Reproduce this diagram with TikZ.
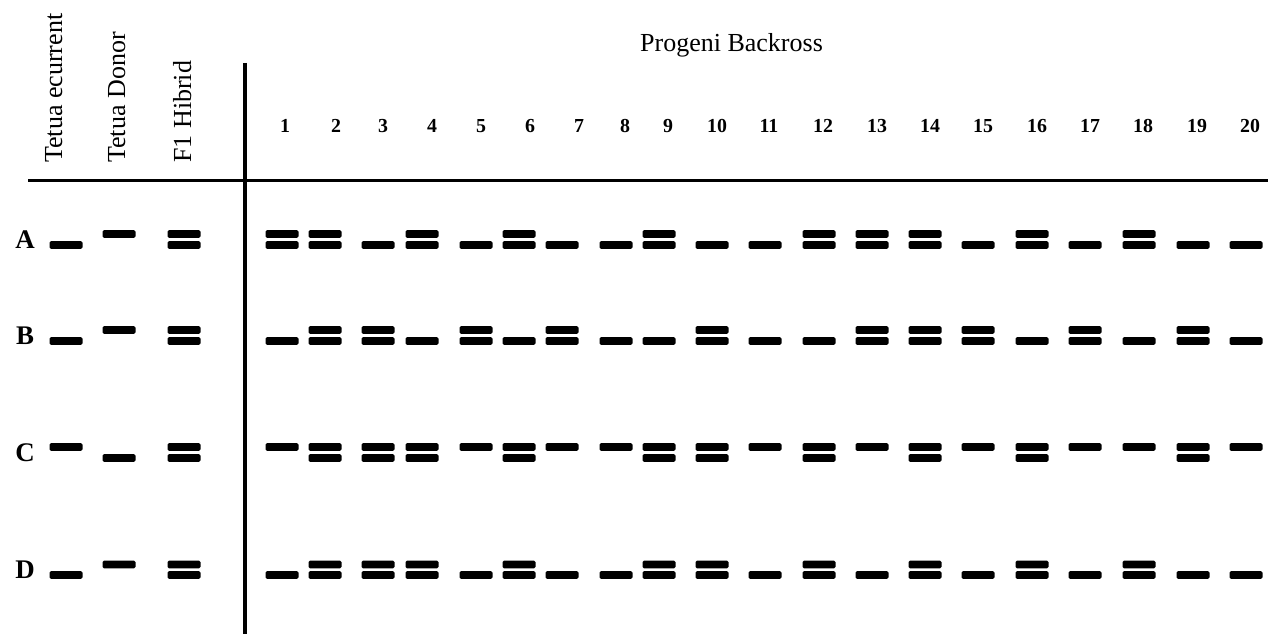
\documentclass[tikz,border=0pt]{standalone}
\usepackage{fontspec}
\setmainfont{Liberation Serif}
\usepackage{tikz}
\usetikzlibrary{calc}

\tikzset{
  band/.style={fill=black,rounded corners=0.8pt},
  axisline/.style={line width=2pt},
  collbl/.style={font=\fontsize{14.8}{16}\selectfont,rotate=90,anchor=base west,inner sep=0pt},
  titlelbl/.style={font=\fontsize{14.8}{16}\selectfont,anchor=base,inner sep=0pt},
  lanenum/.style={font=\fontsize{11.3}{13}\selectfont\bfseries,anchor=base,inner sep=0pt},
  rowlbl/.style={font=\fontsize{15.3}{17}\selectfont\bfseries,inner sep=0pt}
}
\newcommand{\gelband}[2]{\fill[band] ({#1-16.5},{#2-3.8}) rectangle ({#1+16.5},{#2+3.8});}

\begin{document}
\begin{tikzpicture}[x=0.02cm,y=-0.02cm]
    \useasboundingbox (0,0) rectangle (1268,634);
    \draw[axisline] (28,180.5) -- (1268,180.5);
    \draw[axisline] (245,63) -- (245,634);
    \node[collbl] (rec) at (62,163) {Tetua ecurrent};
    \node[collbl] (don) at (125,163) {Tetua Donor};
    \node[collbl] (hyb) at (191,163) {F1 Hibrid};
    \node[titlelbl] (prog) at (731.5,52) {Progeni Backross};
    \foreach \n/\x in {1/285,2/336,3/383,4/432,5/481,6/530,7/579,8/625,9/668,10/717,
                       11/769,12/823,13/877,14/930,15/983,16/1037,17/1090,18/1143,19/1197,20/1250} {
      \node[lanenum] (n\n) at (\x,133) {\n};
    }
    \foreach \r/\yr/\yd in {A/245/234,B/341/330,C/447/458,D/575/564.5} {
      \node[rowlbl] (row\r) at (25,{(\yr+\yd)/2}) {\r};
      \gelband{66}{\yr}
      \gelband{119}{\yd}
      \gelband{184}{\yr}
      \gelband{184}{\yd}
    }
    \foreach \x/\a/\b/\c/\d in {282/2/1/1/1,325/2/2/2/2,378/1/2/2/2,422/2/1/2/2,476/1/2/1/1,
                                519/2/1/2/2,562/1/2/1/1,616/1/1/1/1,659/2/1/2/2,712/1/2/2/2,
                                765/1/1/1/1,819/2/1/2/2,872/2/2/1/1,925/2/2/2/2,978/1/2/1/1,
                                1032/2/1/2/2,1085/1/2/1/1,1139/2/1/1/2,1193/1/2/2/1,1246/1/1/1/1} {
      \foreach \yr/\yd/\g in {245/234/\a,341/330/\b,447/458/\c,575/564.5/\d} {
        \gelband{\x}{\yr}
        \ifnum\g=2 \gelband{\x}{\yd}\fi
      }
    }
  \end{tikzpicture}
\end{document}
